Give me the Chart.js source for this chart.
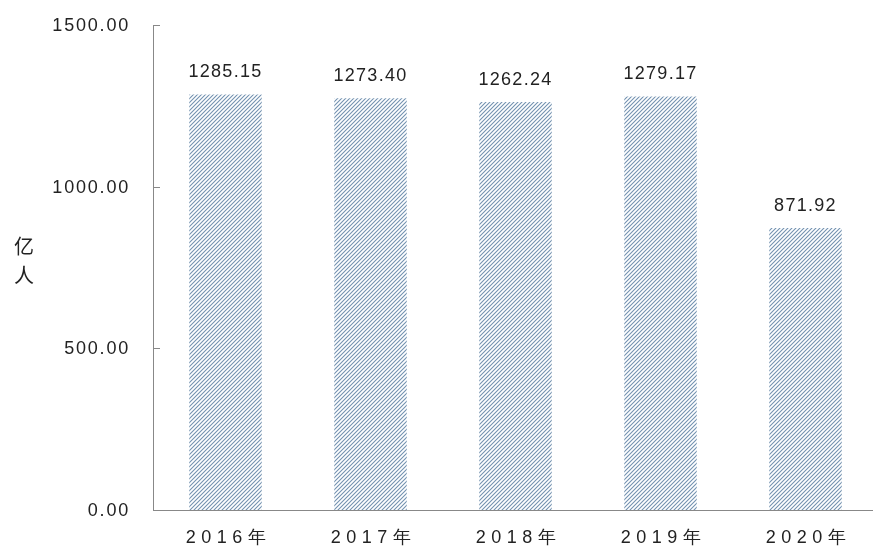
<!DOCTYPE html>
<html>
<head>
<meta charset="utf-8">
<script src="https://cdn.jsdelivr.net/npm/chart.js@4"></script>
<style>
  html, body { margin: 0; padding: 0; overflow: hidden; background: #fff; }
  #wrap { width: 880px; height: 550px; }
</style>
</head>
<body>
<div id="wrap"><canvas id="visitChart"></canvas></div>
<script>
const years = ['2016年', '2017年', '2018年', '2019年', '2020年'];
const visitors = [1285.15, 1273.40, 1262.24, 1279.17, 871.92];
const yTicks = [0, 500, 1000, 1500];
const FONT = '"Liberation Sans", Arial, sans-serif';

// diagonal hatch fill, built pixel by pixel so it stays crisp
function hatch() {
  const c = document.createElement('canvas');
  c.width = 4; c.height = 4;
  const g = c.getContext('2d');
  const img = g.createImageData(4, 4);
  const shades = [[214, 224, 234], [255, 255, 255], [214, 224, 234], [122, 150, 178]];
  for (let j = 0; j < 4; j++) {
    for (let i = 0; i < 4; i++) {
      const s = shades[(i + j) % 4];
      const k = (j * 4 + i) * 4;
      img.data[k] = s[0]; img.data[k + 1] = s[1]; img.data[k + 2] = s[2]; img.data[k + 3] = 255;
    }
  }
  g.putImageData(img, 0, 0);
  return g.createPattern(c, 'repeat');
}

const textPlugin = {
  id: 'texts',
  afterDraw(chart) {
    const ctx = chart.ctx;
    const meta = chart.getDatasetMeta(0);
    const x = chart.scales.x, y = chart.scales.y;
    ctx.save();
    ctx.fillStyle = '#222';
    ctx.textBaseline = 'middle';

    // value labels
    ctx.font = '18px ' + FONT;
    ctx.letterSpacing = '1.3px';
    ctx.textAlign = 'center';
    meta.data.forEach((bar, i) => {
      ctx.fillText(visitors[i].toFixed(2), bar.x, bar.y - 22);
    });

    // y tick labels
    ctx.letterSpacing = '1.8px';
    ctx.textAlign = 'right';
    yTicks.forEach(v => {
      ctx.fillText(v.toFixed(2), 130, y.getPixelForValue(v) + 1);
    });

    // x tick labels
    ctx.letterSpacing = '5.5px';
    ctx.textAlign = 'center';
    years.forEach((lab, i) => {
      ctx.fillText(lab, x.getPixelForValue(i) + 3, 538);
    });

    // axis title
    ctx.letterSpacing = '0px';
    ctx.font = '20px "Noto Sans CJK SC", sans-serif';
    ctx.fillText('亿', 24, 246);
    ctx.fillText('人', 24, 275);

    // inward tick marks on the y axis
    ctx.strokeStyle = '#888';
    ctx.lineWidth = 1;
    yTicks.forEach(v => {
      const py = Math.round(y.getPixelForValue(v)) + 0.5;
      ctx.beginPath();
      ctx.moveTo(y.right, py);
      ctx.lineTo(y.right + 7, py);
      ctx.stroke();
    });
    ctx.restore();
  }
};

const ctx = document.getElementById('visitChart').getContext('2d');
const chart = new Chart(ctx, {
  type: 'bar',
  data: {
    labels: years,
    datasets: [{
      data: visitors,
      backgroundColor: hatch(),
      borderWidth: 0,
      barPercentage: 0.5,
      categoryPercentage: 1
    }]
  },
  options: {
    responsive: true,
    maintainAspectRatio: false,
    animation: false,
    layout: { padding: { top: 25, left: 0, right: 2, bottom: 40 } },
    plugins: { legend: { display: false }, tooltip: { enabled: false } },
    scales: {
      x: {
        grid: { display: false, drawTicks: false },
        border: { color: '#888', width: 1 },
        ticks: { display: false }
      },
      y: {
        min: 0,
        max: 1500,
        afterBuildTicks: axis => { axis.ticks = yTicks.map(v => ({ value: v })); },
        afterFit: axis => { axis.width = 153; },
        grid: { display: false, drawTicks: false },
        border: { color: '#888', width: 1 },
        ticks: { display: false }
      }
    }
  },
  plugins: [textPlugin]
});
</script>
</body>
</html>
